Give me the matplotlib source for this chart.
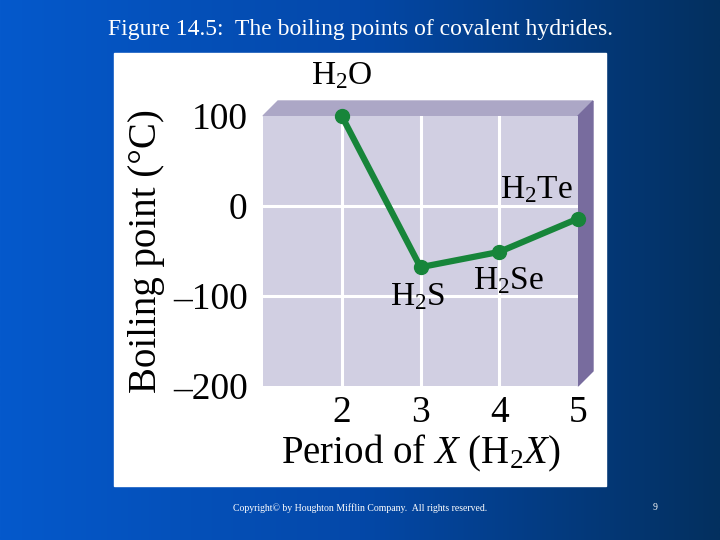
import numpy as np
import matplotlib.pyplot as plt
from matplotlib.patches import Polygon, Rectangle
from matplotlib.colors import LinearSegmentedColormap

# datos
periodos = [2, 3, 4, 5]
puntos_ebullicion = [100, -68, -51, -14]
nombres = ['H$_\\mathregular{2}$O', 'H$_\\mathregular{2}$S', 'H$_\\mathregular{2}$Se', 'H$_\\mathregular{2}$Te']
yticks = [100, 0, -100, -200]
ytick_labels = ['100', '0', '\u2013100', '\u2013200']

plt.rcParams['font.family'] = ['Liberation Serif', 'DejaVu Serif']
plt.rcParams['mathtext.fontset'] = 'custom'
plt.rcParams['mathtext.rm'] = 'Liberation Serif'
plt.rcParams['mathtext.it'] = 'Liberation Serif:italic'

W, H = 720, 540
fig = plt.figure(figsize=(7.2, 5.4), dpi=100)

# fondo azul degradado
bg = fig.add_axes([0, 0, 1, 1])
grad = np.linspace(0, 1, 256).reshape(1, -1)
cmap = LinearSegmentedColormap.from_list('azul', ['#0559cc', '#0448a8', '#03305f'])
bg.imshow(grad, aspect='auto', cmap=cmap, extent=[0, W, H, 0])
bg.set_xlim(0, W)
bg.set_ylim(H, 0)
bg.axis('off')

# panel blanco
bg.add_patch(Rectangle((114, 53), 492, 433, color='white', zorder=2))

# bandas 3D (arriba y derecha)
x0, x1, ytop, ybot, d = 263, 578, 116, 386, 15
bg.add_patch(Polygon([(x0, ytop), (x0 + d, ytop - d), (x1 + d, ytop - d), (x1, ytop)],
                     closed=True, color='#aca7c6', zorder=3))
bg.add_patch(Polygon([(x1, ytop), (x1 + d, ytop - d), (x1 + d, ybot - d), (x1, ybot)],
                     closed=True, color='#786c9e', zorder=3))

bg.text(360, 29, 'Figure 14.5:  The boiling points of covalent hydrides.',
        color='white', fontsize=17, ha='center', va='center', zorder=4)
bg.text(360, 508, 'Copyright\u00a9 by Houghton Mifflin Company.  All rights reserved.',
        color='white', fontsize=7, ha='center', va='center', zorder=4)
bg.text(655, 508, '9', color='white', fontsize=7, ha='center', va='center', zorder=4)

ax = fig.add_axes([x0 / W, 1 - ybot / H, (x1 - x0) / W, (ybot - ytop) / H])
ax.set_facecolor('#d1cfe2')
ax.set_xlim(1, 5)
ax.set_ylim(-200, 100)
for s in ax.spines.values():
    s.set_visible(False)
for xv in [2, 3, 4]:
    ax.axvline(xv, color='white', lw=2.2, zorder=1)
for yv in [0, -100]:
    ax.axhline(yv, color='white', lw=2.2, zorder=1)

ax.plot(periodos, puntos_ebullicion, color='#17853a', lw=4.5, marker='o', ms=10,
        zorder=5, clip_on=False)

ax.set_xticks(periodos)
ax.set_xticklabels([str(p) for p in periodos], fontsize=27)
ax.set_yticks(yticks)
ax.set_yticklabels(ytick_labels, fontsize=27)
ax.tick_params(length=0, pad=11)
ax.tick_params(axis='x', pad=7)

ax.set_xlabel('Period of $\\mathit{X}$ (H$_\\mathregular{2}$$\\mathit{X}$)', fontsize=28, labelpad=2)
ax.set_ylabel('Boiling point (\u00b0C)', fontsize=28, labelpad=6)

# etiquetas de los compuestos (desplazamiento en puntos)
desp = [(0, 29), (-2, -21), (7, -21), (-30, 21)]
for xv, yv, n, (dx, dy) in zip(periodos, puntos_ebullicion, nombres, desp):
    ax.annotate(n, (xv, yv), xytext=(dx, dy), textcoords='offset points',
                fontsize=24, ha='center', va='center', annotation_clip=False)

fig.savefig('out.png', dpi=100)
